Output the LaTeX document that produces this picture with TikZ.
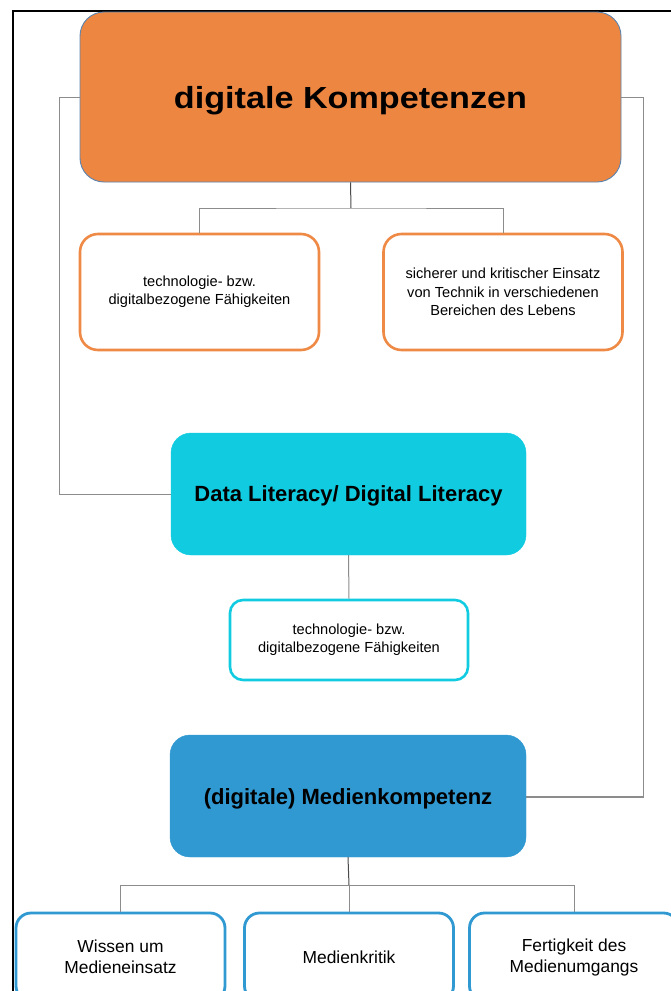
\documentclass[tikz,border=0pt]{standalone}
\usepackage{fontspec}
\setmainfont{Liberation Sans}
\usetikzlibrary{positioning}

\definecolor{kompOrange}{HTML}{ED8641}
\definecolor{kompEdge}{HTML}{5B84B1}
\definecolor{subOrange}{HTML}{EE8A45}
\definecolor{litCyan}{HTML}{11CCE0}
\definecolor{medBlue}{HTML}{3199D1}
\definecolor{linkGray}{HTML}{8C8C8C}
\definecolor{stemGray}{HTML}{4A4A4A}

% place a one-line text with its baseline #1 below the node centre
\newcommand\dropline[2]{\raisebox{-#1}[0pt][0pt]{#2}}

\tikzset{
  headbox/.style={rectangle, rounded corners=#1, align=center, inner sep=0pt},
  headtext/.style={font=\fontsize{22}{26}\selectfont\bfseries},
  mainbox/.style={headbox=24pt, fill=kompOrange, draw=kompEdge, line width=0.9pt,
    minimum width=541pt, minimum height=170pt},
  litbox/.style={headbox=20pt, headtext, fill=litCyan, draw=litCyan,
    minimum width=355pt, minimum height=122pt},
  medbox/.style={headbox=20pt, headtext, fill=medBlue, draw=medBlue,
    minimum width=356pt, minimum height=122pt},
  subbox/.style={rectangle, rounded corners=18pt, fill=white, draw=subOrange,
    line width=2.6pt, align=center, minimum width=239pt, minimum height=116pt,
    font=\fontsize{14.6}{18.4}\selectfont},
  smallbox/.style={rectangle, rounded corners=13pt, fill=white, draw=litCyan,
    line width=2.6pt, align=center, minimum width=238pt, minimum height=80pt,
    font=\fontsize{14.6}{18.4}\selectfont},
  leafbox/.style={rectangle, rounded corners=15pt, fill=white, draw=medBlue,
    line width=2.8pt, align=center, minimum width=209pt, minimum height=88pt,
    font=\fontsize{17.4}{21}\selectfont},
  link/.style={draw=linkGray, line width=1pt},
  stem/.style={draw=stemGray, line width=1pt}
}

\begin{document}
\begin{tikzpicture}[x=1pt, y=-1pt]
  \useasboundingbox (0,0) rectangle (671,991);
  \clip (0,0) rectangle (671,991);
  \fill[white] (0,0) rectangle (671,991);

  % outer frame (open towards the right and the bottom)
  \draw[line width=2pt, black] (13,1000) -- (13,11) -- (690,11);

  % routing points of the connectors
  \coordinate (lk) at (59,97);
  \coordinate (rk) at (643,97);
  \coordinate (tb) at (351,208);
  \coordinate (mb) at (349,885);

  % connectors behind the boxes
  \draw[link] (lk) |- (171,494);
  \draw[link] (rk) |- (526,797);

  % main boxes
  \node[mainbox] (top) at (350.5,97)
    {\dropline{11pt}{\fontsize{30.5}{36}\selectfont\bfseries\scalebox{1.12}[1]{digitale Kompetenzen}}};
  \node[subbox] (s1) at (199.5,292) {technologie- bzw.\\digitalbezogene Fähigkeiten};
  \node[subbox] (s2) at (503,292)
    {sicherer und kritischer Einsatz\\von Technik in verschiedenen\\Bereichen des Lebens};

  \node[litbox] (dl) at (348.5,494) {\dropline{7.8pt}{Data Literacy/ Digital Literacy}};
  \node[smallbox] (sc) at (349,640) {technologie- bzw.\\digitalbezogene Fähigkeiten};

  \node[medbox] (med) at (348,796) {\dropline{8.8pt}{(digitale) Medienkompetenz}};

  \node[leafbox] (b1) at (120.5,957) {Wissen um\\Medieneinsatz};
  \node[leafbox] (b2) at (349,957) {Medienkritik};
  \node[leafbox] (b3) at (574,957) {Fertigkeit des\\Medienumgangs};

  % side links
  \draw[link] (top.west) -- (lk);
  \draw[link] (top.east) -- (rk);
  \draw[link] (lk |- dl.west) -- (dl.west);
  \draw[link] (rk |- med.east) -- (med.east);

  % tree under the main box
  \draw[stem] (top.south) -- (tb);
  \draw[link] (s1.north) |- (tb) -| (s2.north);

  % link from Data Literacy to its sub box
  \draw[link] (dl.south) -- (sc.north);

  % tree under the media box
  \draw[stem] (med.south) -- (mb);
  \draw[link] (b1.north) |- (mb) -| (b3.north);
  \draw[link] (mb) -- (b2.north);
\end{tikzpicture}
\end{document}
